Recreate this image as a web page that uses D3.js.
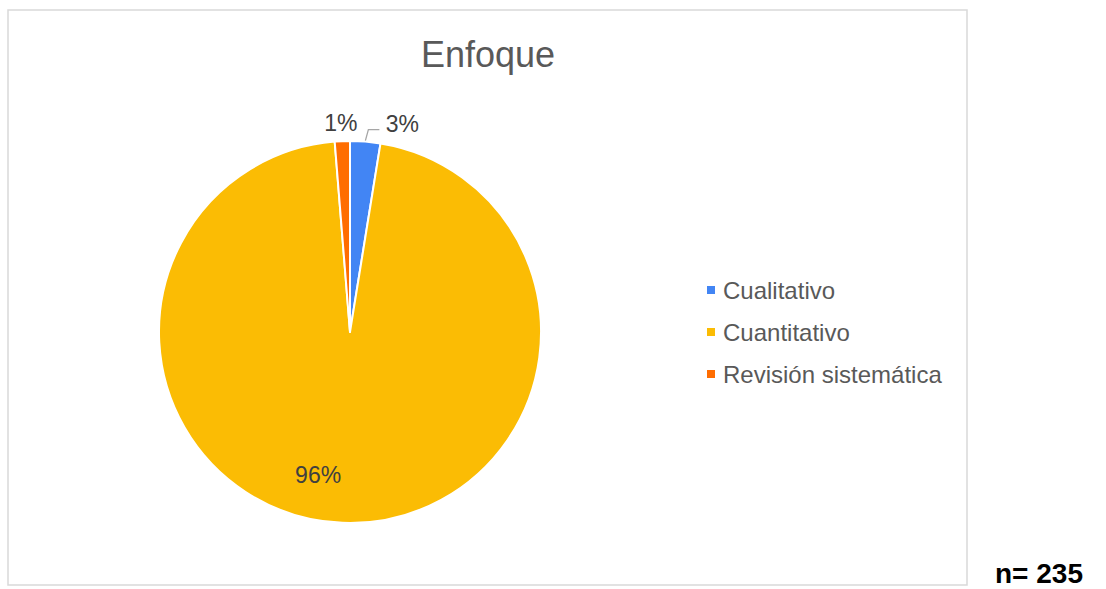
<!DOCTYPE html>
<html>
<head>
<meta charset="utf-8">
<script src="https://cdn.jsdelivr.net/npm/d3@7"></script>
<style>
  html, body { margin: 0; padding: 0; background: #ffffff; }
  svg { display: block; font-family: "Liberation Sans", Arial, sans-serif; }
</style>
</head>
<body>
<svg id="chart" width="1106" height="589"></svg>
<script>
const title = "Enfoque";
const categories = ["Cualitativo", "Cuantitativo", "Revisión sistemática"];
const counts = [6, 226, 3];
const percentLabels = ["3%", "96%", "1%"];
const colors = ["#4285F4", "#FBBC04", "#FF6D01"];
const sampleNote = "n= 235";

const svg = d3.select("#chart");

// chart frame
svg.append("rect")
  .attr("x", 8).attr("y", 10).attr("width", 959).attr("height", 575)
  .attr("fill", "#fff").attr("stroke", "#d9d9d9").attr("stroke-width", 1.5);

// title
svg.append("text")
  .attr("x", 488).attr("y", 67)
  .attr("text-anchor", "middle")
  .attr("font-size", 36)
  .attr("fill", "#595959")
  .text(title);

const cx = 350, cy = 332, R = 191;
const g = svg.append("g").attr("transform", `translate(${cx},${cy})`);

const pie = d3.pie().sort(null).value(d => d)(counts);
const arc = d3.arc().innerRadius(0).outerRadius(R);

g.selectAll("path.slice").data(pie).join("path")
  .attr("class", "slice")
  .attr("d", arc)
  .attr("fill", (d, i) => colors[i])
  .attr("stroke", "#ffffff")
  .attr("stroke-width", 2)
  .attr("stroke-linejoin", "round");

function polar(angle, r) { return [Math.sin(angle) * r, -Math.cos(angle) * r]; }
const lab = g.append("g").attr("font-size", 23).attr("fill", "#404040").attr("text-anchor", "middle");

// Cualitativo (small slice, outside with leader line)
{
  const d = pie[0];
  const mid = (d.startAngle + d.endAngle) / 2;
  const p0 = polar(mid, R + 1);
  const p1 = [p0[0] + 3, p0[1] - 11];
  const p2 = [p1[0] + 11, p1[1]];
  g.append("path")
    .attr("d", d3.line()([p0, p1, p2]))
    .attr("fill", "none").attr("stroke", "#a6a6a6").attr("stroke-width", 1.3);
  lab.append("text").attr("x", p2[0] + 23).attr("y", p2[1] + 2).text(percentLabels[0]);
}
// Revisión sistemática (small slice, outside above)
{
  const d = pie[2];
  const mid = (d.startAngle + d.endAngle) / 2;
  const p0 = polar(mid, R + 10);
  lab.append("text").attr("x", p0[0] - 1).attr("y", p0[1]).text(percentLabels[2]);
}
// Cuantitativo (inside, best fit)
{
  const d = pie[1];
  const mid = (d.startAngle + d.endAngle) / 2 + 0.17;
  const p0 = polar(mid, 0.8 * R);
  lab.append("text").attr("x", p0[0]).attr("y", p0[1] + 2).text(percentLabels[1]);
}

// legend
const leg = svg.append("g").attr("transform", "translate(707,290)");
const row = leg.selectAll("g").data(categories).join("g")
  .attr("transform", (d, i) => `translate(0,${i * 42})`);
row.append("rect").attr("x", 0).attr("y", -4).attr("width", 8).attr("height", 8)
  .attr("fill", (d, i) => colors[i]);
row.append("text").attr("x", 16).attr("y", 8.5)
  .attr("font-size", 24).attr("fill", "#595959").text(d => d);

// n note
svg.append("text")
  .attr("x", 995).attr("y", 583)
  .attr("font-size", 28).attr("font-weight", "bold").attr("fill", "#000")
  .text(sampleNote);
</script>
</body>
</html>
